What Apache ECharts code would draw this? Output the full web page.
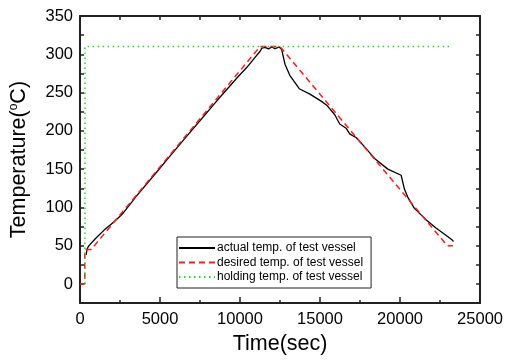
<!DOCTYPE html>
<html>
<head>
<meta charset="utf-8">
<script src="https://cdn.jsdelivr.net/npm/echarts@6/dist/echarts.min.js"></script>
<style>html,body{margin:0;padding:0;background:#fff;}#c{width:506px;height:360px;}</style>
</head>
<body>
<div id="c"></div>
<script>
var actualTime = [380, 450, 560, 1000, 1490, 2115, 2633, 3500, 4705, 5660, 6675, 7732, 8300, 8770, 9300, 9805, 10430, 10900, 11256, 11360, 11567, 11775, 11982, 12189, 12459, 12604, 12811, 13122, 13700, 14366, 15092, 15443, 15920, 16231, 16648, 16853, 17270, 17786, 18408, 19236, 20068, 20273, 20480, 20895, 21623, 22244, 22866, 23280, 23340];
var actualTemp = [38, 46, 50, 60, 70, 81, 91, 114, 144, 168, 193, 219, 233, 244.5, 257, 269, 283, 295, 304, 308, 309, 307, 309.5, 307.5, 309.5, 306, 287, 272, 255, 248, 238.5, 233, 221, 209, 203, 196, 191, 179, 164, 150, 142, 124, 113.5, 98.7, 84, 73, 63.5, 57, 55.5];
var desiredTime = [0, 300, 300, 700, 11250, 12500, 22950, 23300];
var desiredTemp = [0, 0, 45, 45, 310, 310, 50, 50];
var holdingTime = [310, 310, 23100];
var holdingTemp = [0, 310, 310];
var seriesNames = ['actual temp. of test vessel', 'desired temp. of test vessel', 'holding temp. of test vessel'];

function pairs(xs, ys){ return xs.map(function(x,i){ return [x, ys[i]]; }); }

var chart = echarts.init(document.getElementById('c'));
var FONT = 'Liberation Sans, Arial, sans-serif';
var axisColor = '#222';
chart.setOption({
  animation: false,
  grid: {left: 79, right: 25, top: 16, bottom: 49, containLabel: false},
  legend: {
    show: true, orient: 'vertical', left: 177, top: 237,
    data: seriesNames,
    borderColor: '#222', borderWidth: 1, borderRadius: 0,
    padding: [5, 8, 5, 1], itemGap: 2.5, itemWidth: 36, itemHeight: 10,
    itemStyle: {opacity: 0},
    textStyle: {fontFamily: FONT, fontSize: 12, color: '#000', padding: [0,0,0,-3]},
    backgroundColor: '#fff'
  },
  xAxis: [{
    type: 'value', position: 'bottom', min: 0, max: 25000, interval: 5000,
    name: 'Time(sec)', nameLocation: 'middle', nameGap: 20,
    nameTextStyle: {fontFamily: FONT, fontSize: 21.5, color: '#000', verticalAlign: 'top'},
    axisLine: {show: true, onZero: false, lineStyle: {color: axisColor, width: 2}},
    axisTick: {show: true, inside: true, length: 6, lineStyle: {color: axisColor, width: 1.5}},
    minorTick: {show: true, splitNumber: 2, length: 3, lineStyle: {color: axisColor, width: 1.5}},
    axisLabel: {fontFamily: FONT, fontSize: 16.5, color: '#000', margin: 8,
      formatter: function(v){ return String(Math.round(v)); }},
    splitLine: {show: false}
  }, {
    type: 'value', position: 'top', min: 0, max: 25000, interval: 2500,
    axisLine: {show: true, onZero: false, lineStyle: {color: axisColor, width: 2}},
    axisTick: {show: true, inside: true, length: 4, lineStyle: {color: axisColor, width: 1.5}},
    axisLabel: {show: false}, splitLine: {show: false}
  }],
  yAxis: [{
    type: 'value', position: 'left', min: -25, max: 350, interval: 25,
    name: 'Temperature({s|o}C)', nameLocation: 'middle', nameGap: 50, nameRotate: 90,
    nameTextStyle: {fontFamily: FONT, fontSize: 21.5, color: '#000',
      rich: {s: {fontFamily: FONT, fontSize: 12, color: '#000', verticalAlign: 'top', padding: [0,0,8,0]}}},
    axisLine: {show: true, onZero: false, lineStyle: {color: axisColor, width: 2}},
    axisTick: {show: true, inside: true, length: 4, lineStyle: {color: axisColor, width: 1.5}},
    axisLabel: {fontFamily: FONT, fontSize: 16.5, color: '#000', margin: 7,
      formatter: function(v){ return (Math.round(v) % 50 === 0) ? String(Math.round(v)) : ''; }},
    splitLine: {show: false}
  }, {
    type: 'value', position: 'right', min: -25, max: 350, interval: 25,
    axisLine: {show: true, onZero: false, lineStyle: {color: axisColor, width: 2}},
    axisTick: {show: true, inside: true, length: 4, lineStyle: {color: axisColor, width: 1.5}},
    axisLabel: {show: false}, splitLine: {show: false}
  }],
  series: [{
    name: seriesNames[0], type: 'line', data: pairs(actualTime, actualTemp),
    showSymbol: false, symbol: 'none', lineStyle: {color: '#000', width: 1.3}, itemStyle: {color: '#000'}
  }, {
    name: seriesNames[1], type: 'line', data: pairs(desiredTime, desiredTemp),
    showSymbol: false, symbol: 'none', lineStyle: {color: '#ff1a1a', width: 1.5, type: [6, 4]}, itemStyle: {color: '#ff1a1a'}
  }, {
    name: seriesNames[2], type: 'line', data: pairs(holdingTime, holdingTemp),
    showSymbol: false, symbol: 'none', lineStyle: {color: '#22dd22', width: 1.5, type: [1.5, 3.5]}, itemStyle: {color: '#22dd22'}
  }]
});
</script>
</body>
</html>
